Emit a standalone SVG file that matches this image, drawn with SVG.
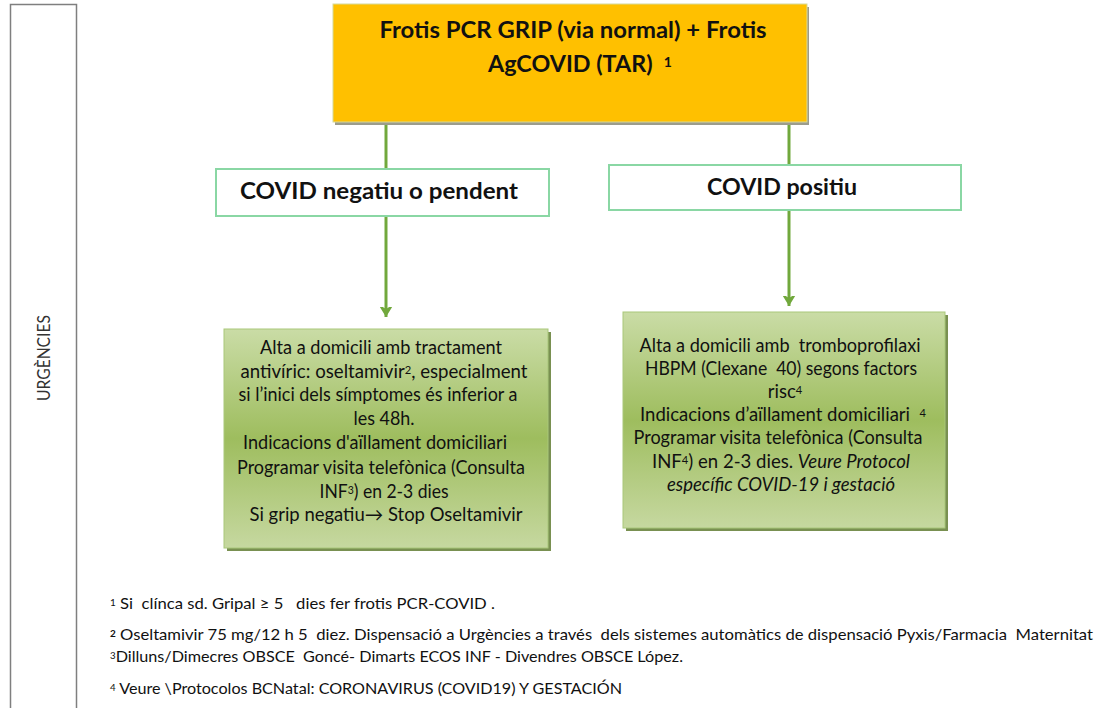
<svg xmlns="http://www.w3.org/2000/svg" width="1101" height="708" viewBox="0 0 1101 708">
<style>
text { font-family: Lato, "Liberation Sans", Arial, sans-serif; fill: #111; white-space: pre; }
.title { font-size: 23px; font-weight: bold; text-anchor: middle; }
.lbl { font-size: 23px; font-weight: bold; text-anchor: middle; }
.body { font-size: 18.5px; text-anchor: middle; }
.foot { font-size: 15px; }
.sup { font-size: 60%; baseline-shift: 35%; }
.conn { stroke: #71A83C; stroke-width: 3; fill: none; }
.res { fill: #fff; stroke: #8AD7A4; stroke-width: 2; }
.green { fill: url(#gg); stroke: #A9C77A; stroke-width: 1; }
.gshadow { fill: #617D32; opacity: 0.85; }
</style>
<defs>
<linearGradient id="gg" x1="0" y1="0" x2="0" y2="1">
<stop offset="0" stop-color="#CADCA6"/>
<stop offset="0.5" stop-color="#9EBD5E"/>
<stop offset="1" stop-color="#C6D8A0"/>
</linearGradient>
<marker id="arr" markerUnits="userSpaceOnUse" markerWidth="20" markerHeight="20" viewBox="-10 -14 20 20" refX="0" refY="0" orient="auto-start-reverse">
<path d="M0,0 L-8,-13 L0,-8 L8,-13 Z" fill="#71A83C" transform="rotate(-90)"/>
</marker>
</defs>

<g id="lane">
<rect x="10.5" y="4.5" width="66" height="712" fill="#fff" stroke="#7F7F7F" stroke-width="1.5"/>
<text transform="translate(50,358) rotate(-90)" text-anchor="middle" font-size="16.5" textLength="86" lengthAdjust="spacingAndGlyphs" style="fill:#333">URGÈNCIES</text>
</g>

<g id="connectors">
<line class="conn" x1="386" y1="122" x2="386" y2="169"/>
<line class="conn" x1="386" y1="216" x2="386" y2="317" marker-end="url(#arr)"/>
<line class="conn" x1="789" y1="122" x2="789" y2="165"/>
<line class="conn" x1="789" y1="210" x2="789" y2="306" marker-end="url(#arr)"/>
</g>

<g id="test">
<rect x="335" y="7" width="474" height="118" fill="#9C9C8C"/>
<rect x="333" y="4" width="474" height="118" fill="#FFC000" stroke="#D6D99A" stroke-width="1"/>
<text class="title" x="573" y="38" textLength="387" lengthAdjust="spacingAndGlyphs">Frotis PCR GRIP (via normal) + Frotis</text>
<text class="title" x="580" y="72" textLength="184" lengthAdjust="spacingAndGlyphs">AgCOVID (TAR)  <tspan class="sup">1</tspan></text>
</g>

<g id="neg">
<rect class="res" x="216" y="169" width="333" height="47"/>
<text class="lbl" x="379" y="199" textLength="278" lengthAdjust="spacingAndGlyphs">COVID negatiu o pendent</text>
</g>

<g id="pos">
<rect class="res" x="609" y="165" width="352" height="45"/>
<text class="lbl" x="782" y="195" textLength="150" lengthAdjust="spacingAndGlyphs">COVID positiu</text>
</g>

<g id="negAction">
<rect class="gshadow" x="227" y="332" width="324" height="219"/>
<rect class="green" x="224" y="329" width="324" height="219"/>
<text class="body" x="381" y="354" textLength="242" lengthAdjust="spacingAndGlyphs">Alta a domicili amb tractament</text>
<text class="body" x="384" y="378" textLength="287" lengthAdjust="spacingAndGlyphs">antivíric: oseltamivir<tspan class="sup">2</tspan>, especialment</text>
<text class="body" x="378" y="401" textLength="279" lengthAdjust="spacingAndGlyphs">si l’inici dels símptomes és inferior a</text>
<text class="body" x="384" y="425" textLength="61" lengthAdjust="spacingAndGlyphs">les 48h.</text>
<text class="body" x="375" y="449" textLength="264" lengthAdjust="spacingAndGlyphs">Indicacions d'aïllament domiciliari</text>
<text class="body" x="381" y="474" textLength="288" lengthAdjust="spacingAndGlyphs">Programar visita telefònica (Consulta</text>
<text class="body" x="384" y="498" textLength="129" lengthAdjust="spacingAndGlyphs">INF<tspan class="sup">3</tspan>) en 2-3 dies</text>
<text class="body" x="386" y="521" textLength="273" lengthAdjust="spacingAndGlyphs">Si grip negatiu→ Stop Oseltamivir</text>
</g>

<g id="posAction">
<rect class="gshadow" x="626" y="315" width="322" height="216"/>
<rect class="green" x="623" y="312" width="322" height="216"/>
<text class="body" x="780" y="352" textLength="281" lengthAdjust="spacingAndGlyphs">Alta a domicili amb  tromboprofilaxi</text>
<text class="body" x="781" y="375" textLength="272" lengthAdjust="spacingAndGlyphs">HBPM (Clexane  40) segons factors</text>
<text class="body" x="785" y="398">risc<tspan class="sup">4</tspan></text>
<text class="body" x="783" y="421">Indicacions d’aïllament domiciliari  <tspan class="sup">4</tspan></text>
<text class="body" x="778" y="444" textLength="289" lengthAdjust="spacingAndGlyphs">Programar visita telefònica (Consulta</text>
<text class="body" x="781" y="468" textLength="258" lengthAdjust="spacingAndGlyphs">INF<tspan class="sup">4</tspan>) en 2-3 dies. <tspan font-style="italic">Veure Protocol</tspan></text>
<text class="body" x="781" y="491" textLength="228" lengthAdjust="spacingAndGlyphs" font-style="italic">específic COVID-19 i gestació</text>
</g>

<g id="footnotes">
<text class="foot" x="110" y="609" textLength="385" lengthAdjust="spacingAndGlyphs"><tspan class="sup">1</tspan> Si  clínca sd. Gripal ≥ 5   dies fer frotis PCR-COVID .</text>
<text class="foot" x="110" y="640" textLength="983" lengthAdjust="spacingAndGlyphs"><tspan class="sup" font-weight="bold">2</tspan> Oseltamivir 75 mg/12 h 5  diez. Dispensació a Urgències a través  dels sistemes automàtics de dispensació Pyxis/Farmacia  Maternitat</text>
<text class="foot" x="110" y="662" textLength="573" lengthAdjust="spacingAndGlyphs"><tspan class="sup">3</tspan>Dilluns/Dimecres OBSCE  Goncé- Dimarts ECOS INF - Divendres OBSCE López.</text>
<text class="foot" x="110" y="694" textLength="512" lengthAdjust="spacingAndGlyphs"><tspan class="sup">4</tspan> Veure \Protocolos BCNatal: CORONAVIRUS (COVID19) Y GESTACIÓN</text>
</g>
</svg>
